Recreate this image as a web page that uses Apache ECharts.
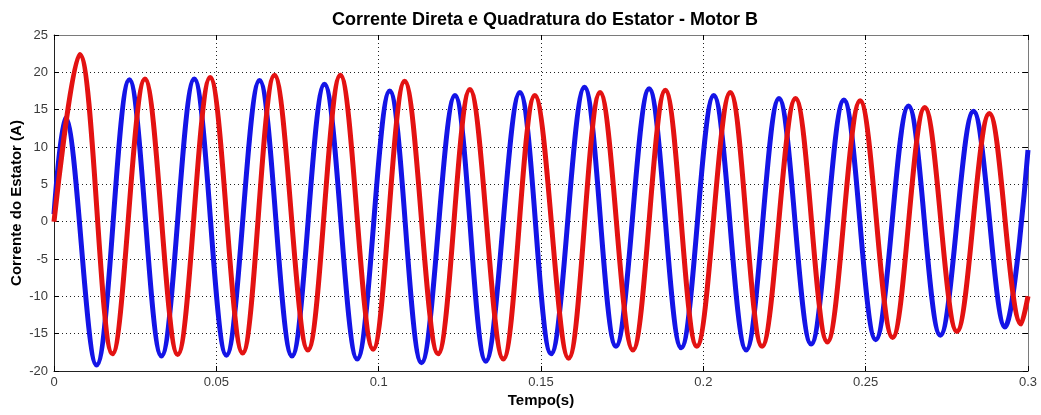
<!DOCTYPE html>
<html>
<head>
<meta charset="utf-8">
<script src="https://cdn.jsdelivr.net/npm/echarts@6/dist/echarts.min.js"></script>
<style>
  html, body { margin: 0; padding: 0; background: #fff; }
  #chart { width: 1041px; height: 415px; }
</style>
</head>
<body>
<div id="chart"></div>
<script>
// Stator currents (A) at their turning points, sampled in time (s)
const directTime = [0, 0.0035, 0.0131, 0.0232, 0.0331, 0.0432, 0.0531, 0.0633, 0.0733, 0.0833,
  0.0934, 0.1034, 0.1132, 0.1235, 0.1330, 0.1435, 0.1531, 0.1634, 0.1731, 0.1833,
  0.1932, 0.2032, 0.2132, 0.2233, 0.2332, 0.2433, 0.2531, 0.2632, 0.2730, 0.2832,
  0.2929, 0.3];
const directCurrent = [1, 13.9, -19.2, 19.0, -18.0, 19.1, -17.9, 18.9, -18.0, 18.4,
  -18.4, 17.5, -18.9, 16.9, -18.7, 17.3, -17.7, 18.0, -16.7, 17.8,
  -16.9, 16.9, -17.2, 16.5, -16.4, 16.3, -15.8, 15.5, -15.2, 14.8,
  -14.1, 9.6];

const quadTime = [0, 0.0079, 0.0180, 0.0280, 0.0381, 0.0481, 0.0581, 0.0679, 0.0782, 0.0882,
  0.0983, 0.1080, 0.1183, 0.1281, 0.1384, 0.1481, 0.1585, 0.1682, 0.1783, 0.1883,
  0.1980, 0.2083, 0.2181, 0.2284, 0.2382, 0.2483, 0.2583, 0.2682, 0.2781, 0.2881,
  0.2979, 0.3];
const quadCurrent = [0, 22.4, -17.7, 19.1, -17.8, 19.3, -17.6, 19.6, -17.2, 19.6,
  -17.1, 18.8, -17.7, 17.7, -18.4, 16.9, -18.3, 17.3, -17.2, 17.6,
  -16.7, 17.3, -16.7, 16.5, -16.1, 16.2, -15.5, 15.3, -14.7, 14.5,
  -13.7, -10.0];

const xTicks = { min: 0, max: 0.3, step: 0.05 };
const yTicks = { min: -20, max: 25, step: 5 };

const pairs = (ts, vs) => ts.map((t, i) => [t, vs[i]]);

const FONT = '"Liberation Sans", Arial, sans-serif';
const tickText = { color: '#3a3a3a', fontSize: 13, fontFamily: FONT };
const nameText = { fontFamily: FONT, fontWeight: 'bold', fontSize: 15, color: '#000' };
const grid = { type: [1, 3], color: '#222', width: 1 };

const chart = echarts.init(document.getElementById('chart'), null, { renderer: 'canvas' });
chart.setOption({
  backgroundColor: '#fff',
  animation: false,
  title: {
    text: 'Corrente Direta e Quadratura do Estator - Motor B',
    left: 540,
    textAlign: 'center',
    top: 6,
    textStyle: { fontFamily: FONT, fontWeight: 'bold', fontSize: 18, color: '#000' }
  },
  grid: { left: 54, right: 13, top: 35, bottom: 44, containLabel: false, outerBoundsMode: 'none' },
  xAxis: [{
    type: 'value', min: xTicks.min, max: xTicks.max, interval: xTicks.step,
    name: 'Tempo(s)', nameLocation: 'middle', nameGap: 22, nameTextStyle: nameText,
    nameMoveOverlap: false,
    axisLine: { onZero: false, lineStyle: { color: '#222', width: 1 } },
    axisTick: { inside: true, length: 5, lineStyle: { color: '#000' } },
    axisLabel: Object.assign({ margin: 5, formatter: v => String(+v.toFixed(2)) }, tickText),
    splitLine: { show: true, lineStyle: grid }
  }, {
    type: 'value', position: 'top', min: xTicks.min, max: xTicks.max, interval: xTicks.step,
    axisLine: { onZero: false, lineStyle: { color: '#7a7a7a', width: 1 } },
    axisTick: { inside: true, length: 5, lineStyle: { color: '#000' } },
    axisLabel: { show: false }, splitLine: { show: false }
  }],
  yAxis: [{
    type: 'value', min: yTicks.min, max: yTicks.max, interval: yTicks.step,
    name: 'Corrente do Estator (A)', nameLocation: 'middle', nameGap: 30, nameTextStyle: nameText,
    nameMoveOverlap: false,
    axisLine: { show: true, onZero: false, lineStyle: { color: '#222', width: 1 } },
    axisTick: { show: true, inside: true, length: 5, lineStyle: { color: '#000' } },
    axisLabel: Object.assign({ margin: 6 }, tickText),
    splitLine: { show: true, lineStyle: grid }
  }, {
    type: 'value', position: 'right', min: yTicks.min, max: yTicks.max, interval: yTicks.step,
    axisLine: { show: true, onZero: false, lineStyle: { color: '#7a7a7a', width: 1 } },
    axisTick: { show: true, inside: true, length: 5, lineStyle: { color: '#000' } },
    axisLabel: { show: false }, splitLine: { show: false }
  }],
  series: [{
    name: 'Corrente direta',
    type: 'line',
    data: pairs(directTime, directCurrent),
    showSymbol: false,
    smooth: 0.36,
    clip: true,
    lineStyle: { color: '#1414e6', width: 5 }
  }, {
    name: 'Corrente em quadratura',
    type: 'line',
    data: pairs(quadTime, quadCurrent),
    showSymbol: false,
    smooth: 0.36,
    clip: true,
    lineStyle: { color: '#e31212', width: 5 }
  }]
});
</script>
</body>
</html>
